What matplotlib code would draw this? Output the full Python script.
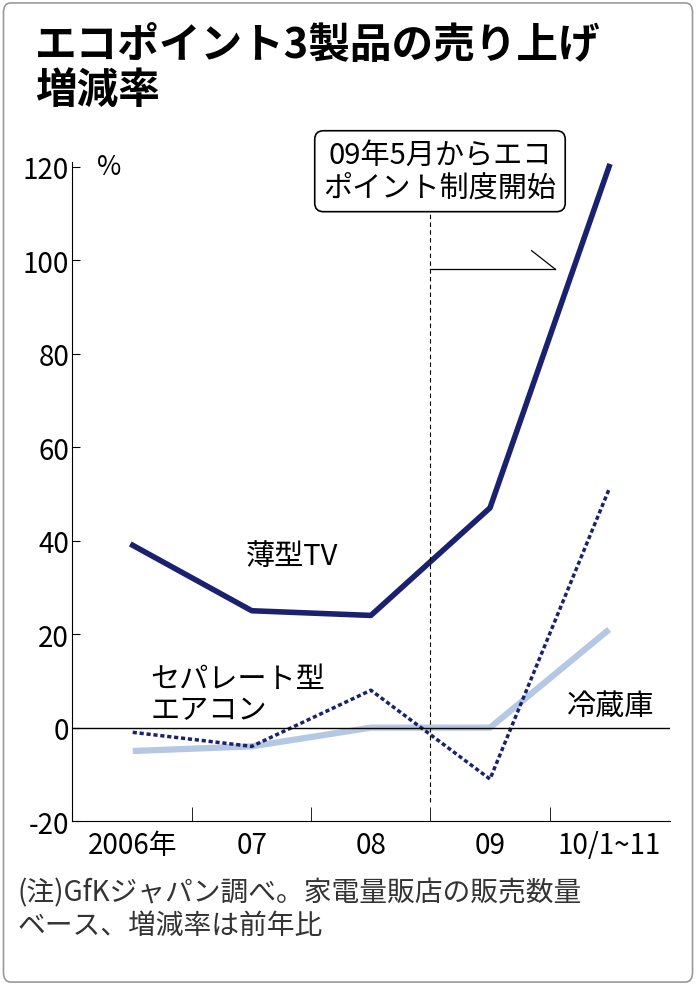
import matplotlib.pyplot as plt
from matplotlib.patches import FancyBboxPatch

plt.rcParams['font.family'] = 'Noto Sans CJK JP'

# data
categories = ['2006年', '07', '08', '09', '10/1~11']
tv = [39, 25, 24, 47, 120]
aircon = [-1, -4, 8, -11, 51]
fridge = [-5, -4, 0, 0, 21]
yticks = [-20, 0, 20, 40, 60, 80, 100, 120]

navy = '#1a2270'
light = '#b4c8e4'

fig = plt.figure(figsize=(6.96, 9.87), dpi=100)
fig.patches.append(FancyBboxPatch((0.005, 0.004), 0.99, 0.992, boxstyle='round,pad=0,rounding_size=0.01',
                                  transform=fig.transFigure, fill=False, edgecolor='#999999', linewidth=1.2))

ax = fig.add_axes([0.1034, 0.167, 0.859, 0.668])
x = list(range(len(categories)))
ax.plot(x, fridge, color=light, linewidth=4.5, solid_capstyle='butt')
ax.plot(x, aircon, color=navy, linewidth=2.5, linestyle=(0, (1.2, 0.8)))
ax.plot(x, tv, color=navy, linewidth=4)

ax.axhline(0, color='black', linewidth=1)
ax.set_xlim(-0.51, 4.51)
ax.set_ylim(-20, 121)
ax.set_yticks(yticks)
ax.set_yticklabels([str(v) for v in yticks], fontsize=20)
ax.tick_params(axis='y', direction='in', length=6, pad=2)
ax.set_xticks(x)
ax.set_xticklabels(categories, fontsize=20)
ax.set_xticks([0.5, 1.5, 2.5, 3.5], minor=True)
ax.tick_params(axis='x', which='major', length=0, pad=6)
ax.tick_params(axis='x', which='minor', direction='in', length=10)
for s in ['top', 'right']:
    ax.spines[s].set_visible(False)
ax.text(-0.3, 120, '%', fontsize=19, va='center')

# event marker
ax.plot([2.5, 2.5], [-16, 111], color='black', linewidth=0.8, linestyle=(0, (4, 3)))
ax.plot([2.5, 3.55], [98, 98], color='black', linewidth=0.9)
ax.plot([3.35, 3.55], [102, 98], color='black', linewidth=0.9)
ax.text(2.58, 119, '09年5月からエコ\nポイント制度開始', fontsize=21, ha='center', va='center',
        linespacing=1.15, bbox=dict(boxstyle='round,pad=0.3', facecolor='white', edgecolor='black', linewidth=1.2))

ax.text(0.95, 35, '薄型TV', fontsize=21)
ax.text(0.15, 2, 'セパレート型\nエアコン', fontsize=21, linespacing=1.05)
ax.text(3.65, 3, '冷蔵庫', fontsize=21)

fig.text(0.05, 0.975, 'エコポイント3製品の売り上げ\n増減率', fontsize=30, fontweight='bold',
         va='top', linespacing=1.1)
fig.text(0.025, 0.11, '(注)GfKジャパン調べ。家電量販店の販売数量\nベース、増減率は前年比', fontsize=20,
         va='top', color='#333333', linespacing=1.1)

plt.savefig('out.png', dpi=100)
